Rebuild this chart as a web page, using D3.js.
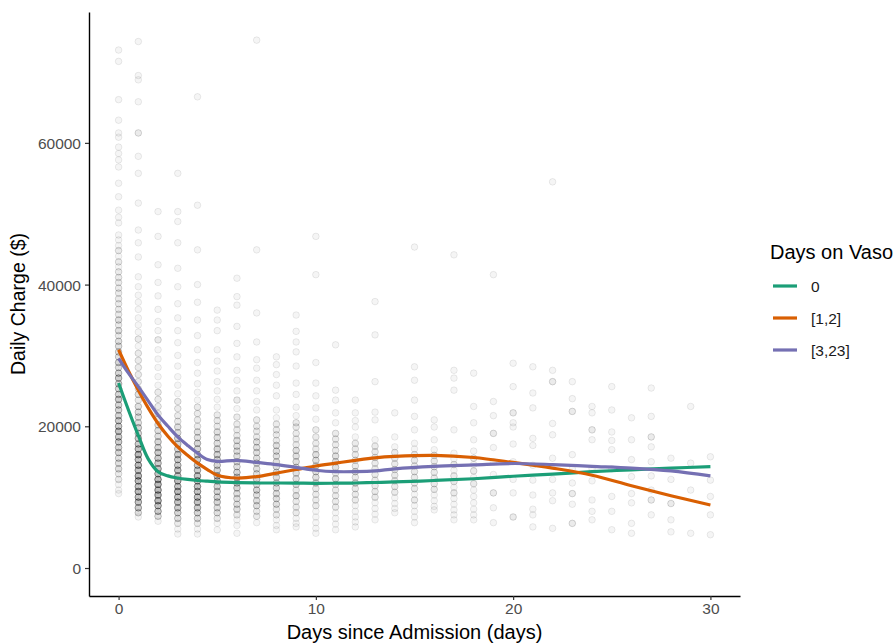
<!DOCTYPE html>
<html>
<head>
<meta charset="utf-8">
<script src="https://cdn.jsdelivr.net/npm/d3@7"></script>
<style>
  html, body { margin: 0; padding: 0; background: #fff; }
  svg { display: block; font-family: "Liberation Sans", Arial, sans-serif; }
</style>
</head>
<body>
<svg id="chart" width="895" height="643"></svg>
<script>
// ---------- DATA ----------
const days = d3.range(0, 31);
// scatter points per day: [charge in thousands $, count of overlapping observations]
const pts0  = [[73.1,1],[71.5,1],[66.1,1],[63.2,1],[61.4,1],[60.8,1],[59.4,1],[58.5,1],[57.6,1],[56.6,1],[54.3,1],[52.4,1],[50.5,1],[49.5,1],[48.7,1],[47,1],[46.3,1],[45.5,1],[44.8,2],[44,1],[43.2,2],[42.5,1],[41.8,2],[41,2],[40.3,2],[39.5,2],[38.8,2],[38,2],[37.3,2],[36.5,2],[35.8,2],[35,3],[34.3,2],[33.5,3],[32.8,2],[32,3],[31.3,3],[30.5,3],[29.8,3],[29,4],[28.3,3],[27.5,4],[26.8,5],[26,4],[25.3,4],[24.5,4],[23.8,5],[23,4],[22.3,4],[21.5,4],[20.8,5],[20,5],[19.3,6],[18.5,5],[17.8,5],[17,4],[16.3,4],[15.5,3],[14.8,3],[14,3],[13.3,2],[12.5,2],[11.8,1],[11,1],[10.5,1]];
const pts1  = [[74.3,1],[69.5,1],[68.9,1],[65.8,1],[61.4,2],[58.1,1],[55.7,1],[51.5,1],[47.7,1],[45.9,1],[43.9,1],[41.1,1],[39.7,1],[38.5,1],[37.5,1],[36.5,1],[35.3,1],[34.3,1],[33.3,1],[32.3,2],[31.3,1],[30.3,2],[29.3,2],[28.3,2],[27.3,2],[26.3,2],[25.3,2],[24.5,3],[23.7,2],[22.8,3],[22,3],[21.3,3],[20.5,3],[19.8,4],[19,4],[18.3,5],[17.5,5],[16.8,6],[16,7],[15.3,6],[14.5,7],[13.8,6],[13,7],[12.3,7],[11.5,6],[10.8,7],[10,6],[9.3,6],[8.5,5],[7.8,3],[7.2,1]];
const pts2  = [[50.3,1],[46.8,1],[42.8,1],[40.3,1],[38.4,1],[36.5,1],[34.8,1],[33.5,1],[32.2,2],[30.8,1],[29.5,1],[28.3,1],[27,1],[25.8,1],[24.8,2],[23.8,2],[22.8,2],[21.8,2],[21,2],[20.2,3],[19.4,3],[18.6,3],[17.8,4],[17,4],[16.3,5],[15.5,5],[14.8,5],[14,6],[13.3,6],[12.5,7],[11.8,7],[11,7],[10.3,7],[9.5,7],[8.8,6],[8,5],[7.3,3],[6.6,1]];
const pts3  = [[55.7,1],[50.3,1],[48.9,1],[45.9,1],[42.3,1],[39.7,1],[37.3,1],[35.3,1],[33.5,1],[31.8,1],[30,1],[28.5,1],[27,1],[25.8,1],[24.6,1],[23.5,2],[22.5,2],[21.5,2],[20.7,2],[19.9,3],[19.1,3],[18.3,4],[17.5,4],[16.8,4],[16,5],[15.3,5],[14.5,5],[13.8,6],[13,6],[12.3,7],[11.5,6],[10.8,7],[10,6],[9.3,6],[8.5,5],[7.8,4],[7,3],[6.3,2],[5.5,1],[4.8,1]];
const pts4  = [[66.5,1],[51.2,1],[44.9,1],[40,1],[37.5,1],[35,1],[32.8,1],[30.8,1],[29,1],[27.5,1],[26,1],[24.8,1],[23.7,1],[22.7,2],[21.8,2],[20.9,2],[20,2],[19.2,3],[18.4,3],[17.6,4],[16.8,4],[16,4],[15.3,5],[14.5,5],[13.8,5],[13,6],[12.3,6],[11.5,6],[10.8,6],[10,6],[9.3,6],[8.5,5],[7.8,4],[7,3],[6.3,2],[5.5,1],[4.8,1]];
const pts5  = [[36.4,1],[35,1],[33.5,1],[30.8,1],[29.2,1],[27.8,1],[26.3,1],[25,1],[23.8,1],[22.7,1],[21.6,2],[20.8,2],[20,2],[19.2,3],[18.4,3],[17.6,3],[16.8,4],[16,4],[15.3,4],[14.5,4],[13.8,4],[13,5],[12.3,5],[11.5,4],[10.8,4],[10,4],[9.3,4],[8.5,3],[7.8,3],[7,2],[6.3,1],[5.4,1]];
const pts6  = [[40.9,1],[38.3,1],[37.1,1],[34.1,1],[31.7,1],[29.8,1],[27.9,1],[26.5,1],[25,1],[23.7,2],[22.5,1],[21.3,2],[20.3,2],[19.5,2],[18.7,2],[18,3],[17.2,3],[16.5,3],[15.8,3],[15,3],[14.3,3],[13.5,4],[12.8,4],[12,4],[11.3,4],[10.5,3],[9.8,3],[9,3],[8.3,3],[7.5,2],[6.8,1],[6,1],[4.9,1]];
const pts7  = [[74.5,1],[44.9,1],[36,1],[31.9,1],[29.4,1],[28.2,1],[26.5,1],[25,1],[23.5,1],[22.3,1],[20.9,2],[20,2],[19.3,2],[18.5,2],[17.8,3],[17,3],[16.3,3],[15.5,3],[14.8,3],[14,3],[13.3,3],[12.5,4],[11.8,3],[11,4],[10.3,3],[9.5,3],[8.8,3],[8,2],[7.3,2],[6.4,1]];
const pts8  = [[29.8,1],[28.7,1],[27.3,1],[25.8,1],[24.3,1],[22.3,1],[21.2,1],[20.3,2],[19.5,2],[18.8,2],[18,2],[17.3,3],[16.5,3],[15.8,3],[15,3],[14.3,3],[13.5,3],[12.8,3],[12,3],[11.3,3],[10.5,3],[9.8,3],[9,3],[8.3,2],[7.5,2],[6.8,1],[6,1],[5.4,1]];
const pts9  = [[35.7,1],[33.4,1],[31.9,1],[30.5,1],[28.5,1],[26.1,1],[24.5,1],[22.7,1],[21.5,1],[20.5,2],[19.9,2],[19,2],[18.2,2],[17.4,2],[16.6,3],[15.8,3],[15,3],[14.2,3],[13.4,3],[12.6,3],[11.8,3],[11,2],[10.2,3],[9.4,2],[8.6,2],[7.8,2],[7,1],[6.3,1],[5.8,1]];
const pts10 = [[46.8,1],[41.4,1],[29,1],[26.1,1],[24.3,1],[22.6,1],[21,1],[19.5,2],[18.5,2],[17.6,2],[16.8,2],[16,3],[15.2,3],[14.4,3],[13.6,3],[12.8,3],[12,3],[11.2,2],[10.4,2],[9.6,2],[8.8,2],[8,1],[7.2,1],[6.4,1],[5.6,1],[4.9,1]];
const pts11 = [[31.5,1],[25.1,1],[23.7,1],[21.9,1],[20.5,1],[19,2],[18.2,2],[17.4,2],[16.6,2],[15.8,3],[15,3],[14.2,3],[13.4,2],[12.6,3],[11.8,2],[11,2],[10.2,2],[9.4,2],[8.6,2],[7.8,1],[7,1],[6.2,1],[5.4,1]];
const pts12 = [[23.7,1],[21.9,1],[20.8,1],[19.9,1],[18.5,1],[17.6,2],[16.8,2],[16,2],[15.2,2],[14.4,2],[13.6,3],[12.8,2],[12,3],[11.2,2],[10.4,2],[9.6,2],[8.8,1],[8,1],[7.2,1],[6.5,1],[5.8,1]];
const pts13 = [[37.6,1],[32.9,1],[26.3,1],[22,1],[20.9,1],[18.1,1],[17.2,2],[16.4,2],[15.6,2],[14.8,2],[14,2],[13.2,2],[12.4,2],[11.6,2],[10.8,2],[10,2],[9.2,1],[8.4,1],[7.6,1],[6.8,1]];
const pts14 = [[21.9,1],[18.5,1],[17.1,1],[16.3,2],[15.5,2],[14.7,2],[13.9,2],[13.1,2],[12.3,2],[11.5,2],[10.7,2],[9.9,1],[9.1,1],[8.4,1],[7.8,1]];
const pts15 = [[45.3,1],[28.4,1],[26.5,1],[23.7,1],[21.4,1],[19.5,1],[17.6,1],[16.8,1],[16,2],[15.2,2],[14.4,2],[13.6,2],[12.8,2],[12,2],[11.2,2],[10.4,1],[9.6,2],[8.8,1],[8,1],[7.2,1],[6.4,1]];
const pts16 = [[20.9,1],[19.9,1],[18.1,1],[16.7,1],[15.9,2],[15.1,2],[14.3,2],[13.5,2],[12.7,2],[11.9,2],[11.1,2],[10.3,1],[9.5,1],[8.7,1],[8.2,1]];
const pts17 = [[44.2,1],[27.9,1],[26.8,1],[25.1,1],[19.5,1],[16.2,1],[15.4,1],[14.6,2],[13.8,1],[13,2],[12.2,2],[11.4,1],[10.6,2],[9.8,1],[9,1],[8.2,1],[7.5,1],[6.8,1]];
const pts18 = [[27.5,1],[22.8,1],[20.5,1],[18.1,1],[16.5,1],[15.5,2],[14.6,1],[13.7,2],[12.8,1],[11.9,2],[11,1],[10.1,1],[9.2,1],[8.3,1],[7.5,1],[6.8,1]];
const pts19 = [[41.4,1],[23.5,1],[21.5,1],[19,2],[17,1],[15,1],[13.2,1],[10.6,2],[8.5,1],[6.4,1]];
const pts20 = [[28.9,1],[25.6,1],[21.9,2],[20.5,1],[19.9,1],[17.5,1],[15,1],[12.5,1],[10.6,1],[7.2,2]];
const pts21 = [[28.4,1],[24.7,1],[22.6,1],[18.3,1],[17.3,1],[14.5,1],[12.4,1],[10.3,1],[8.3,1],[7.5,1],[5.8,1]];
const pts22 = [[54.5,1],[27.9,1],[26.3,2],[20.4,1],[18.8,1],[15.5,1],[12.5,1],[10.6,1],[9.5,1],[5.6,1]];
const pts23 = [[26.3,1],[23.9,1],[22.1,2],[16,1],[14,1],[12,1],[10.5,2],[9,1],[6.3,2]];
const pts24 = [[22.8,1],[21.9,1],[19.5,2],[18.1,1],[14,1],[12.3,1],[9.6,1],[8,1],[6.8,1]];
const pts25 = [[25.6,1],[22.3,1],[19.2,1],[18,1],[16.7,1],[14,1],[10.1,1],[8,1],[5.4,1]];
const pts26 = [[21.2,1],[18.1,1],[15.3,1],[12.9,1],[10.5,1],[9.2,1],[6.3,1],[4.9,1]];
const pts27 = [[25.4,1],[21.4,1],[18.5,2],[17.1,1],[15,1],[13,1],[11,1],[9.6,2],[7.5,1]];
const pts28 = [[15.5,1],[12.5,1],[9.1,2],[6.8,1],[5.1,1]];
const pts29 = [[22.8,1],[14.8,1],[11,1],[4.9,1]];
const pts30 = [[15.7,1],[12.4,1],[10.1,1],[7.5,1],[4.7,1]];
const pointsByDay = [pts0,pts1,pts2,pts3,pts4,pts5,pts6,pts7,pts8,pts9,pts10,pts11,pts12,pts13,pts14,pts15,pts16,pts17,pts18,pts19,pts20,pts21,pts22,pts23,pts24,pts25,pts26,pts27,pts28,pts29,pts30];

// smoothed curves (thousands $) at these days
const smoothX   = [0,0.5,1,1.5,2,2.5,3,3.5,4,4.5,5,6,7,8,9,10,11,12,13,14,16,18,20,22,24,26,28,30];
const smooth0   = [26.1,22.3,18.7,15.4,13.6,13.0,12.7,12.5,12.35,12.25,12.15,12.05,12.0,12.0,11.98,11.95,11.97,12.0,12.07,12.15,12.35,12.6,12.95,13.25,13.6,13.85,14.1,14.3];
const smooth12  = [30.8,27.8,25.1,22.6,20.4,18.6,17.1,15.9,14.8,13.9,13.1,12.7,12.9,13.4,13.9,14.4,14.8,15.2,15.55,15.75,15.9,15.6,14.9,14.1,13.1,11.6,10.2,8.9];
const smooth323 = [29.6,27.5,25.6,23.6,21.6,20.0,18.5,17.3,16.2,15.3,15.05,15.2,14.9,14.6,14.2,13.8,13.6,13.6,13.7,14.0,14.35,14.55,14.75,14.6,14.35,14.1,13.7,13.0];

const seriesNames  = ["0", "[1,2]", "[3,23]"];
const seriesColors = ["#1B9E77", "#D95F02", "#7570B3"];
const xTicks = [0, 10, 20, 30];
const yTicks = [0, 20000, 40000, 60000];

// ---------- CHART ----------
const FONT = "'Liberation Sans', Arial, sans-serif";
const svg = d3.select("#chart");
const x = d3.scaleLinear().domain([-1.5, 31.5]).range([89, 740]);
const y = d3.scaleLinear().domain([-3950, 78470]).range([596, 12]);

// points
const flat = [];
pointsByDay.forEach((arr, i) => {
  arr.forEach(([v, c]) => { for (let k = 0; k < c; k++) flat.push({day: days[i], v: v * 1000}); });
});
svg.append("g").selectAll("circle").data(flat).join("circle")
  .attr("cx", d => x(d.day))
  .attr("cy", d => y(d.v))
  .attr("r", 3.3)
  .attr("fill", "#000").attr("fill-opacity", 0.04)
  .attr("stroke", "#000").attr("stroke-opacity", 0.08).attr("stroke-width", 1);

// smooth lines
const line = d3.line().x(d => x(d[0])).y(d => y(d[1] * 1000)).curve(d3.curveCatmullRom.alpha(0.5));
[smooth0, smooth12, smooth323].forEach((s, i) => {
  svg.append("path")
    .datum(smoothX.map((xx, j) => [xx, s[j]]))
    .attr("d", line)
    .attr("fill", "none")
    .attr("stroke", seriesColors[i])
    .attr("stroke-width", 3.2)
    .attr("stroke-linejoin", "round")
    .attr("stroke-linecap", "butt");
});

// axes
const xAxis = svg.append("g").attr("transform", "translate(0,596)")
  .call(d3.axisBottom(x).tickValues(xTicks).tickSize(4).tickSizeOuter(0).tickPadding(3));
const yAxis = svg.append("g").attr("transform", "translate(89,0)")
  .call(d3.axisLeft(y).tickValues(yTicks).tickFormat(d3.format("d")).tickSize(4).tickSizeOuter(0).tickPadding(4));
[xAxis, yAxis].forEach(g => {
  g.select(".domain").attr("stroke", "#000").attr("stroke-width", 1.4);
  g.selectAll(".tick line").attr("stroke", "#333").attr("stroke-width", 1.2);
  g.selectAll(".tick text").attr("fill", "#4d4d4d").style("font-size", "15.5px").style("font-family", FONT);
});
yAxis.selectAll(".tick text").attr("dy", "0.36em");

// axis titles
svg.append("text").attr("x", 414.5).attr("y", 639).attr("text-anchor", "middle")
  .style("font-size", "20px").attr("fill", "#000").text("Days since Admission (days)");
svg.append("text").attr("transform", "translate(25,304) rotate(-90)").attr("text-anchor", "middle")
  .style("font-size", "19.5px").attr("fill", "#000").text("Daily Charge ($)");

// legend
const lg = svg.append("g");
lg.append("text").attr("x", 770).attr("y", 259).style("font-size", "20px").attr("fill", "#000").text("Days on Vaso");
seriesNames.forEach((n, i) => {
  const yy = 286 + i * 32;
  lg.append("line").attr("x1", 773).attr("x2", 797).attr("y1", yy).attr("y2", yy)
    .attr("stroke", seriesColors[i]).attr("stroke-width", 3.2);
  lg.append("text").attr("x", 811).attr("y", yy + 5.5).style("font-size", "15.5px").attr("fill", "#1a1a1a").text(n);
});
</script>
</body>
</html>
